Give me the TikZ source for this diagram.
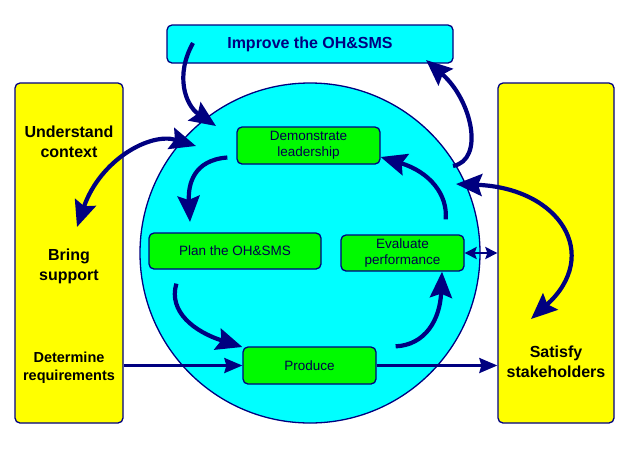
\documentclass[tikz,border=0pt]{standalone}
\usepackage{fontspec}
\setmainfont{Liberation Sans}
\usetikzlibrary{arrows.meta}
\definecolor{navy}{RGB}{0,0,128}
\definecolor{aqua}{RGB}{0,255,255}
\definecolor{lime}{RGB}{0,250,0}
\definecolor{lemon}{RGB}{255,255,0}

\begin{document}
\begin{tikzpicture}[x=1pt, y=-1pt,
    side/.style={draw=navy, fill=lemon, rounded corners=5pt, line width=1.3pt, minimum height=340pt, inner sep=0pt},
    task/.style={draw=navy, fill=lime, rounded corners=5pt, line width=1.3pt, minimum height=37pt, inner sep=0pt, align=center, text=navy!60!black, font=\fontsize{13.5}{16}\selectfont},
    lbl/.style={align=center, font=\fontsize{16}{20}\selectfont\bfseries},
    flow/.style={navy, line width=4.2pt, -{Stealth[length=26pt,width=22pt,inset=4pt]}},
    both/.style={flow, {Stealth[length=26pt,width=22pt,inset=4pt]}-{Stealth[length=26pt,width=22pt,inset=4pt]}},
    feed/.style={navy, line width=2.6pt, -{Stealth[length=18pt,width=15pt,inset=2pt]}}
  ]
    \useasboundingbox (0,0) rectangle (618,448);
    % outer boxes
    \node[side, minimum width=108pt] (lbox) at (69,253) {};
    \node[side, minimum width=116pt] (rbox) at (556,253) {};
    \node[draw=navy, fill=aqua, rounded corners=5pt, line width=1.3pt, minimum width=286pt, minimum height=38pt,
      text=navy, font=\fontsize{16}{20}\selectfont\bfseries] (imp) at (310,44) {Improve the OH\&SMS};
    \node[lbl] (ctx) at (69,142) {Understand\\context};
    \node[lbl] (supp) at (69,266) {Bring\\support};
    \node[lbl, font=\fontsize{14.5}{18}\selectfont\bfseries] (req) at (69,368) {Determine\\requirements};
    \node[lbl] (sat) at (556,362) {Satisfy\\stakeholders};
    % cycle
    \node[circle, draw=navy, fill=aqua, line width=1.3pt, minimum size=340pt] (pdca) at (310,253) {};
    \node[task, minimum width=143pt] (lead) at (308.5,145.5) {Demonstrate\\leadership};
    \node[task, minimum width=172pt, minimum height=36pt] (plan) at (235,251) {Plan the OH\&SMS};
    \node[task, minimum width=123pt, minimum height=36pt] (eval) at (402.5,253) {Evaluate\\performance};
    \node[task, minimum width=133pt] (prod) at (309.5,365.5) {Produce};
    % arrow ends
    \coordinate (impout) at (193,43);
    \coordinate (pdcain) at (216,126);
    \coordinate (pdcaout) at (453,166);
    \coordinate (impin) at (426,60);
    \coordinate (ctxin) at (196,146);
    \coordinate (suppin) at (77,227);
    \coordinate (satl) at (456,184);
    \coordinate (satr) at (531,319);
    \draw[flow] (impout) .. controls (175,75) and (185,105) .. (pdcain);
    \draw[flow] (pdcaout) .. controls (485,160) and (472,100) .. (impin);
    \draw[both] (suppin) .. controls (100,160) and (150,132) .. (ctxin);
    \draw[flow] (lead.west) ++(-9,12) .. controls (193,160) and (188,185) .. (190,222);
    \draw[flow] (plan.south west) ++(28,14) .. controls (168,312) and (195,332) .. (prod.west |- 0,347);
    \draw[flow] (prod.north east) ++(19,0) .. controls (425,345) and (440,320) .. (eval.south -| 442,0);
    \draw[flow] (eval.north east) ++(-19,-15) .. controls (448,195) and (430,172) .. (lead.east |- 0,157);
    \draw[both] (satl) .. controls (560,188) and (602,255) .. (satr);
    \draw[feed, {Stealth[length=12pt,width=12pt,inset=2pt]}-{Stealth[length=12pt,width=12pt,inset=2pt]}] (eval.east) -- (rbox.west |- eval.east);
    \draw[feed] (lbox.east |- prod.west) -- (prod.west);
    \draw[feed] (prod.east) -- (rbox.west |- prod.east);
  \end{tikzpicture}
\end{document}
